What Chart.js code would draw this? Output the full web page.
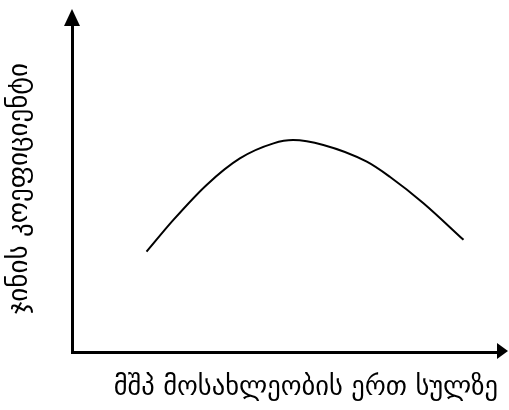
<!DOCTYPE html>
<html>
<head>
<meta charset="utf-8">
<script src="https://cdn.jsdelivr.net/npm/chart.js@4/dist/chart.umd.min.js"></script>
<style>
  html, body { margin: 0; padding: 0; background: #fff; }
  #wrap { width: 509px; height: 410px; }
</style>
</head>
<body>
<div id="wrap"><canvas id="c" width="509" height="410"></canvas></div>
<script>
// Data (abstract units)
const gdpPerCapita = [17.5, 23.8, 31.6, 39.4, 47.3, 51.9, 59.0, 69.2, 74.6, 82.5, 91.9];
const giniValues   = [30.7, 40.4, 51.1, 59.2, 63.8, 64.8, 63.3, 58.2, 53.6, 45.5, 34.3];
const xTitle = 'მშპ მოსახლეობის ერთ სულზე';
const yTitle = 'ჯინის კოეფიციენტი';

const points = gdpPerCapita.map((x, i) => ({ x: x, y: giniValues[i] }));

const arrowPlugin = {
  id: 'arrows',
  afterDraw(chart) {
    const { ctx, chartArea: a } = chart;
    ctx.save();
    ctx.fillStyle = '#000';
    // up arrow
    ctx.beginPath();
    ctx.moveTo(a.left, a.top - 16);
    ctx.lineTo(a.left - 8, a.top + 1);
    ctx.lineTo(a.left + 8, a.top + 1);
    ctx.closePath();
    ctx.fill();
    // right arrow
    ctx.beginPath();
    ctx.moveTo(a.right + 10, a.bottom - 1);
    ctx.lineTo(a.right - 1, a.bottom - 9);
    ctx.lineTo(a.right - 1, a.bottom + 7);
    ctx.closePath();
    ctx.fill();
    ctx.restore();
  }
};

new Chart(document.getElementById('c'), {
  type: 'line',
  data: {
    datasets: [{
      data: points,
      borderColor: '#000',
      borderWidth: 2,
      pointRadius: 0,
      cubicInterpolationMode: 'monotone',
      fill: false
    }]
  },
  options: {
    responsive: false,
    animation: false,
    layout: { padding: { top: 25, right: 11, left: 0, bottom: 0 } },
    plugins: { legend: { display: false }, tooltip: { enabled: false } },
    scales: {
      x: {
        type: 'linear', min: 0, max: 100,
        grid: { display: false, drawTicks: false },
        ticks: { display: false },
        border: { display: true, color: '#000', width: 3 },
        title: { display: true, text: xTitle, color: '#000', align: 'end',
                 font: { family: 'DejaVu Sans', size: 26.5 }, padding: { top: 0, bottom: 6 } },
        afterFit(s) { s.height = 58; }
      },
      y: {
        type: 'linear', min: 0, max: 100,
        grid: { display: false, drawTicks: false },
        ticks: { display: false },
        border: { display: true, color: '#000', width: 3 },
        title: { display: true, text: yTitle, color: '#000',
                 font: { family: 'DejaVu Sans', size: 27 }, padding: { top: 4, bottom: 0 } },
        afterFit(s) { s.width = 72; }
      }
    }
  },
  plugins: [arrowPlugin]
});
</script>
</body>
</html>
